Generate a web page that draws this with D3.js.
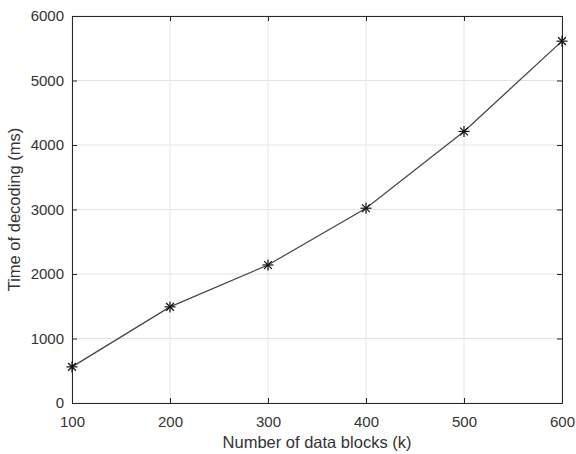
<!DOCTYPE html>
<html>
<head>
<meta charset="utf-8">
<script src="https://cdn.jsdelivr.net/npm/d3@7"></script>
<style>
  body { margin: 0; background: #fff; }
  svg text { font-family: "Liberation Sans", Arial, sans-serif; fill: #333; }
</style>
</head>
<body>
<script>
// chart data
var blocks = [100, 200, 300, 400, 500, 600];
var decodeTime = [560, 1490, 2140, 3020, 4210, 5610];
var xTicks = [100, 200, 300, 400, 500, 600];
var yTicks = [0, 1000, 2000, 3000, 4000, 5000, 6000];

var W = 576, H = 454;
var margin = {top: 16, right: 14, bottom: 51, left: 72};
var w = W - margin.left - margin.right;
var h = H - margin.top - margin.bottom;

var svg = d3.select('body').append('svg')
  .attr('width', W).attr('height', H);

var g = svg.append('g')
  .attr('transform', 'translate(' + margin.left + ',' + margin.top + ')');

var x = d3.scaleLinear().domain([100, 600]).range([0, w]);
var y = d3.scaleLinear().domain([0, 6000]).range([h, 0]);

// grid
g.append('g').selectAll('line').data(xTicks).enter().append('line')
  .attr('x1', d => x(d)).attr('x2', d => x(d))
  .attr('y1', 0).attr('y2', h)
  .attr('stroke', '#e3e3e3').attr('stroke-width', 1);
g.append('g').selectAll('line').data(yTicks).enter().append('line')
  .attr('y1', d => y(d)).attr('y2', d => y(d))
  .attr('x1', 0).attr('x2', w)
  .attr('stroke', '#e3e3e3').attr('stroke-width', 1);

// axes (ticks pointing inward)
var fmt = d3.format('d');
var xAxis = d3.axisBottom(x).tickValues(xTicks).tickFormat(fmt).tickSizeInner(-5).tickSizeOuter(0).tickPadding(13);
var yAxis = d3.axisLeft(y).tickValues(yTicks).tickFormat(fmt).tickSizeInner(-5).tickSizeOuter(0).tickPadding(8);

var gx = g.append('g').attr('transform', 'translate(0,' + h + ')').call(xAxis);
var gy = g.append('g').call(yAxis);
[gx, gy].forEach(function (a) {
  a.selectAll('path, line').attr('stroke', '#262626');
  a.selectAll('text').style('font-size', '15px').attr('fill', '#333');
});

// top and right frame with ticks
var gx2 = g.append('g').call(d3.axisTop(x).tickValues(xTicks).tickSizeInner(-5).tickSizeOuter(0).tickFormat(''));
var gy2 = g.append('g').attr('transform', 'translate(' + w + ',0)')
  .call(d3.axisRight(y).tickValues(yTicks).tickSizeInner(-5).tickSizeOuter(0).tickFormat(''));
[gx2, gy2].forEach(function (a) {
  a.selectAll('path, line').attr('stroke', '#262626');
});

// line
var line = d3.line().x((d, i) => x(blocks[i])).y(d => y(d));
g.append('path').datum(decodeTime)
  .attr('d', line)
  .attr('fill', 'none')
  .attr('stroke', '#444')
  .attr('stroke-width', 1.2);

// asterisk markers
g.append('g').selectAll('g').data(decodeTime).enter().append('g')
  .attr('transform', (d, i) => 'translate(' + x(blocks[i]) + ',' + y(d) + ')')
  .each(function () {
    var s = d3.select(this);
    var r = 5.5;
    [0, 45, 90, 135].forEach(function (a) {
      var rad = a * Math.PI / 180;
      s.append('line')
        .attr('x1', -r * Math.cos(rad)).attr('y1', -r * Math.sin(rad))
        .attr('x2', r * Math.cos(rad)).attr('y2', r * Math.sin(rad))
        .attr('stroke', '#111').attr('stroke-width', 1.2);
    });
  });

// labels
svg.append('text')
  .attr('x', margin.left + w / 2).attr('y', 448)
  .attr('text-anchor', 'middle')
  .style('font-size', '16.5px')
  .text('Number of data blocks (k)');

svg.append('text')
  .attr('transform', 'translate(20,' + (margin.top + h / 2) + ') rotate(-90)')
  .attr('text-anchor', 'middle')
  .style('font-size', '16.5px')
  .text('Time of decoding (ms)');
</script>
</body>
</html>
